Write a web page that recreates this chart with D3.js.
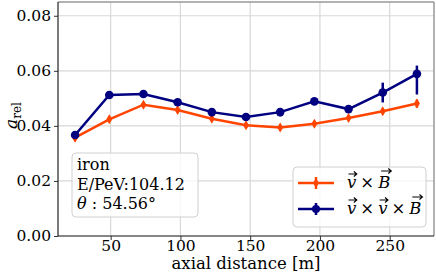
<!DOCTYPE html>
<html lang="en">
<head>
<meta charset="utf-8">
<title>a_rel vs axial distance</title>
<script src="https://d3js.org/d3.v7.min.js"></script>
<style>
  body { margin: 0; background: #fff; }
  svg text { font-family: "DejaVu Serif", serif; fill: #000; }
</style>
</head>
<body>
<div id="chart"></div>
<script>
var w = 436, h = 274;
var margin = {left: 58, right: 2, top: 2, bottom: 38};

// data
var distance = [24.5, 49, 73.5, 98, 122.5, 147, 171.5, 196, 220.5, 245, 269.5];
var vxB      = [0.0357, 0.0424, 0.0477, 0.0458, 0.0426, 0.0402, 0.0394, 0.0408, 0.0429, 0.0453, 0.0481];
var vxBErr   = [0.0010, 0.0010, 0.0010, 0.0008, 0.0008, 0.0008, 0.0010, 0.0008, 0.0008, 0.0010, 0.0015];
var vxvxB    = [0.0367, 0.0512, 0.0516, 0.0486, 0.0450, 0.0432, 0.0450, 0.0489, 0.0461, 0.0521, 0.0589];
var vxvxBLo  = [0.0008, 0.0008, 0.0008, 0.0008, 0.0008, 0.0008, 0.0015, 0.0008, 0.0008, 0.0036, 0.0075];
var vxvxBHi  = [0.0008, 0.0008, 0.0008, 0.0008, 0.0008, 0.0008, 0.0015, 0.0008, 0.0008, 0.0036, 0.0030];
var xTicks = [50, 100, 150, 200, 250];
var yTicks = [0, 0.02, 0.04, 0.06, 0.08];
var infoLines = ["iron", "E/PeV:104.12"];

var svg = d3.select("#chart").append("svg")
  .attr("width", w).attr("height", h);

var x = d3.scaleLinear().domain([12.25, 281.75]).range([margin.left, w - margin.right]);
var y = d3.scaleLinear().domain([0, 0.085]).range([h - margin.bottom, margin.top]);

// grid
svg.append("g").selectAll("line.gx").data(xTicks).enter().append("line")
  .attr("x1", function(d) { return x(d); }).attr("x2", function(d) { return x(d); })
  .attr("y1", y(0)).attr("y2", y(0.085))
  .attr("stroke", "#d8d8d8").attr("stroke-width", 1.2);
svg.append("g").selectAll("line.gy").data(yTicks).enter().append("line")
  .attr("x1", x(12.25)).attr("x2", x(281.75))
  .attr("y1", function(d) { return y(d); }).attr("y2", function(d) { return y(d); })
  .attr("stroke", "#d8d8d8").attr("stroke-width", 1.2);

// axes
var xAxis = d3.axisBottom(x).tickValues(xTicks).tickSize(4).tickPadding(0).tickFormat(d3.format("d"));
var yAxis = d3.axisLeft(y).tickValues(yTicks).tickSize(4).tickPadding(3).tickFormat(d3.format(".2f"));
var gx = svg.append("g").attr("transform", "translate(0," + y(0) + ")").call(xAxis);
var gy = svg.append("g").attr("transform", "translate(" + x(12.25) + ",0)").call(yAxis);
[gx, gy].forEach(function(g) {
  g.select(".domain").remove();
  g.selectAll("line").attr("stroke", "#333");
  g.selectAll("text").attr("font-size", "15.5px").attr("font-family", "DejaVu Serif");
});

// spines
svg.append("line").attr("x1", x(281.75)).attr("x2", x(281.75)).attr("y1", y(0)).attr("y2", y(0.085))
  .attr("stroke", "#999").attr("stroke-width", 1.5);
svg.append("line").attr("x1", x(12.25)).attr("x2", x(281.75)).attr("y1", y(0.085)).attr("y2", y(0.085))
  .attr("stroke", "#999").attr("stroke-width", 1.5);
svg.append("line").attr("x1", x(12.25)).attr("x2", x(12.25)).attr("y1", y(0)).attr("y2", y(0.085))
  .attr("stroke", "#222").attr("stroke-width", 1.2);
svg.append("line").attr("x1", x(12.25)).attr("x2", x(281.75)).attr("y1", y(0)).attr("y2", y(0))
  .attr("stroke", "#222").attr("stroke-width", 1.2);

var line = d3.line()
  .x(function(d) { return x(d[0]); })
  .y(function(d) { return y(d[1]); });

function drawSeries(vals, lo, hi, color, marker) {
  var pts = distance.map(function(d, i) { return [d, vals[i], lo[i], hi[i]]; });
  var g = svg.append("g");
  g.selectAll("line.err").data(pts).enter().append("line")
    .attr("x1", function(d) { return x(d[0]); }).attr("x2", function(d) { return x(d[0]); })
    .attr("y1", function(d) { return y(d[1] - d[2]); })
    .attr("y2", function(d) { return y(d[1] + d[3]); })
    .attr("stroke", color).attr("stroke-width", 2.5);
  g.append("path").datum(pts).attr("d", line)
    .attr("fill", "none").attr("stroke", color).attr("stroke-width", 2.5);
  if (marker === "circle") {
    g.selectAll("circle").data(pts).enter().append("circle")
      .attr("cx", function(d) { return x(d[0]); }).attr("cy", function(d) { return y(d[1]); })
      .attr("r", 4.3).attr("fill", color);
  } else {
    g.selectAll("path.m").data(pts).enter().append("path")
      .attr("transform", function(d) { return "translate(" + x(d[0]) + "," + y(d[1]) + ")"; })
      .attr("d", "M0,-5L3,0L0,5L-3,0Z").attr("fill", color);
  }
}

drawSeries(vxB, vxBErr, vxBErr, "#ff4500", "diamond");
drawSeries(vxvxB, vxvxBLo, vxvxBHi, "#000080", "circle");

// info box
svg.append("rect").attr("x", 72).attr("y", 153).attr("width", 126).attr("height", 64)
  .attr("rx", 4).attr("fill", "rgba(255,255,255,0.8)").attr("stroke", "#d0d0d0");
svg.selectAll("text.info").data(infoLines).enter().append("text")
  .attr("x", 77).attr("y", function(d, i) { return 170 + i * 19.5; })
  .attr("font-size", "16px").text(function(d) { return d; });
var th = svg.append("text").attr("x", 77).attr("y", 209).attr("font-size", "16px");
th.append("tspan").attr("font-style", "italic").text("θ");
th.append("tspan").text(" : 54.56°");

// legend
svg.append("rect").attr("x", 293).attr("y", 167).attr("width", 133).attr("height", 60)
  .attr("rx", 4).attr("fill", "rgba(255,255,255,0.8)").attr("stroke", "#d0d0d0");
var legendItems = [
  {color: "#ff4500", marker: "diamond", parts: ["v", "×", "B"]},
  {color: "#000080", marker: "circle", parts: ["v", "×", "v", "×", "B"]}
];
legendItems.forEach(function(it, i) {
  var cy = 183 + i * 26;
  svg.append("line").attr("x1", 298).attr("x2", 334).attr("y1", cy).attr("y2", cy)
    .attr("stroke", it.color).attr("stroke-width", 2.5);
  svg.append("line").attr("x1", 316).attr("x2", 316).attr("y1", cy - 6).attr("y2", cy + 6)
    .attr("stroke", it.color).attr("stroke-width", 2.5);
  if (it.marker === "circle") {
    svg.append("circle").attr("cx", 316).attr("cy", cy).attr("r", 4).attr("fill", it.color);
  } else {
    svg.append("path").attr("transform", "translate(316," + cy + ")")
      .attr("d", "M0,-5L3,0L0,5L-3,0Z").attr("fill", it.color);
  }
  // build label piece by piece, arrows drawn above vectors
  var px = 347, base = cy + 5;
  it.parts.forEach(function(p, k) {
    var isVec = (p === "v" || p === "B");
    var t = svg.append("text").attr("x", px).attr("y", base).attr("font-size", "16.5px")
      .attr("font-style", isVec ? "italic" : "normal").text(p);
    var tw = t.node().getComputedTextLength();
    if (isVec) {
      var top = p === "v" ? base - 14 : base - 17;
      var ax0 = px + (p === "v" ? 1.5 : 3), ax1 = px + tw + (p === "v" ? 0.5 : 1);
      svg.append("path")
        .attr("d", "M" + ax0 + "," + top + "L" + ax1 + "," + top +
                   "M" + (ax1 - 3) + "," + (top - 2.5) + "L" + ax1 + "," + top + "L" + (ax1 - 3) + "," + (top + 2.5))
        .attr("fill", "none").attr("stroke", "#000").attr("stroke-width", 1.1);
    }
    px += tw + 4;
  });
});

// axis labels
svg.append("text").attr("x", x(147)).attr("y", 269).attr("text-anchor", "middle")
  .attr("font-size", "16.5px").text("axial distance [m]");
var yl = svg.append("text").attr("transform", "translate(17,129) rotate(-90)")
  .attr("font-size", "17px");
yl.append("tspan").attr("font-style", "italic").text("a");
yl.append("tspan").attr("font-size", "12px").attr("dy", 4).text("rel");
</script>
</body>
</html>
